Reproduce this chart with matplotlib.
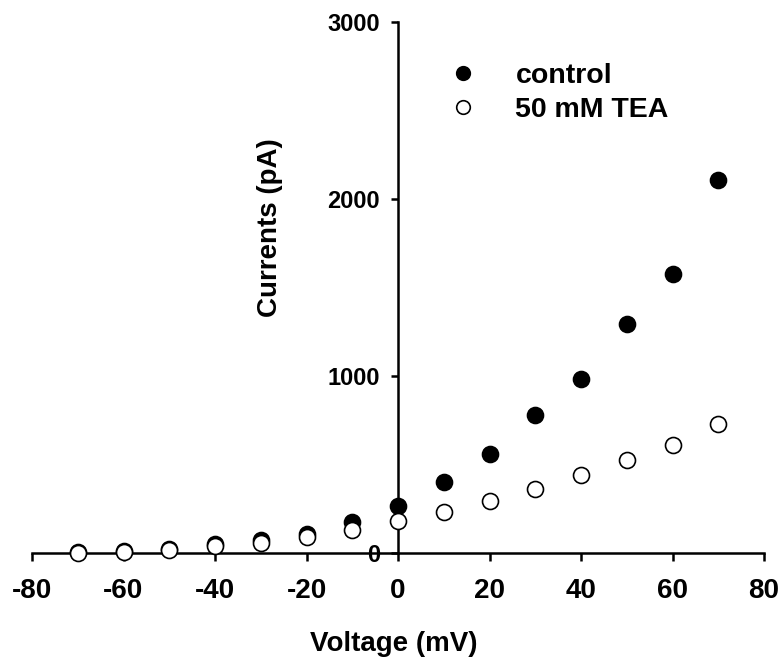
import matplotlib
matplotlib.use("Agg")
from matplotlib import pyplot as plt

plt.rcParams["font.family"] = ["Liberation Sans", "DejaVu Sans"]
plt.rcParams["font.weight"] = "bold"
plt.rcParams["axes.unicode_minus"] = False

# voltage steps (mV)
voltage = [-70, -60, -50, -40, -30, -20, -10, 0, 10, 20, 30, 40, 50, 60, 70]

# currents (pA)
control = [3, 10, 20, 50, 73, 105, 177, 267, 403, 562, 779, 985, 1295, 1577, 2108]
tea = [2, 5, 15, 41, 56, 90, 132, 182, 230, 295, 362, 443, 527, 612, 731]

x_ticks = [-80, -60, -40, -20, 0, 20, 40, 60, 80]
y_ticks = [0, 1000, 2000, 3000]

fig = plt.figure(figsize=(7.81, 6.6), dpi=100)
ax = fig.add_axes([32 / 781, 107 / 660, 732 / 781, 531 / 660])

ax.plot(voltage, control, "o", color="black", markersize=11.5,
        markeredgewidth=1.2, label="control", clip_on=False, zorder=3)
ax.plot(voltage, tea, "o", markerfacecolor="white", markeredgecolor="black",
        markersize=11.5, markeredgewidth=1.2, label="50 mM TEA",
        clip_on=False, zorder=4)

ax.set_xlim(-80, 80)
ax.set_ylim(0, 3000)

# axes cross at the origin
ax.spines["left"].set_position(("data", 0))
ax.spines["bottom"].set_position(("data", 0))
ax.spines["right"].set_visible(False)
ax.spines["top"].set_visible(False)
for s in ["left", "bottom"]:
    ax.spines[s].set_linewidth(1.8)

ax.set_xticks(x_ticks)
ax.set_yticks(y_ticks)
ax.tick_params(axis="x", direction="out", length=6, width=1.8,
               labelsize=20, pad=12)
ax.tick_params(axis="y", direction="out", length=5, width=1.8,
               labelsize=17, pad=8)
for lbl in ax.get_xticklabels() + ax.get_yticklabels():
    lbl.set_fontweight("bold")

fig.text(270 / 781, 1 - 228 / 660, "Currents (pA)", rotation=90,
         ha="center", va="center", fontsize=20, fontweight="bold")
fig.text(394 / 781, 1 - 644 / 660, "Voltage (mV)",
         ha="center", va="center", fontsize=20, fontweight="bold")

ax.legend(loc="upper left", bbox_to_anchor=(0.534, 0.945), frameon=False,
          prop={"size": 20.5, "weight": "bold"}, handletextpad=0.85,
          labelspacing=0.3, borderaxespad=0, markerscale=0.85)

fig.savefig("out.png", dpi=100)
